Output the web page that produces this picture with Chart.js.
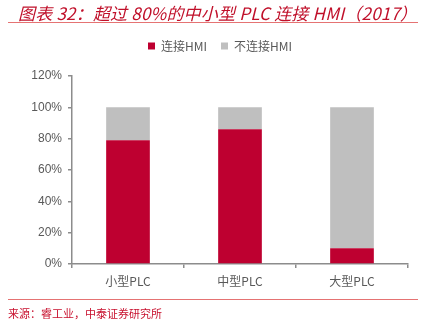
<!DOCTYPE html>
<html>
<head>
<meta charset="utf-8">
<script src="https://cdn.jsdelivr.net/npm/chart.js@4"></script>
<style>
  html, body { margin: 0; padding: 0; background: #fff; }
  #wrap { position: relative; width: 424px; height: 327px; overflow: hidden; }
  #title {
    position: absolute; left: 18px; top: 0px;
    font-family: "Noto Sans CJK SC", "Liberation Sans", sans-serif;
    font-style: italic; font-size: 17px; color: #C0102A; white-space: nowrap;
    letter-spacing: 0.2px;
  }
  #rule-top { position: absolute; left: 8px; top: 22px; width: 410px; height: 1px; background: #E57373; }
  #rule-bottom { position: absolute; left: 8px; top: 299px; width: 410px; height: 1px; background: #E57373; }
  #source {
    position: absolute; left: 8px; top: 305px;
    font-family: "Noto Sans CJK SC", sans-serif; font-size: 11px; color: #C8102E; white-space: nowrap;
  }
  #chart-box { position: absolute; left: 0; top: 0; width: 424px; height: 327px; }
</style>
</head>
<body>
<div id="wrap">
  <div id="chart-box"><canvas id="c" width="424" height="327"></canvas></div>
  <div id="title">图表 32：超过 80%的中小型 PLC 连接 HMI（2017）</div>
  <div id="rule-top"></div>
  <div id="rule-bottom"></div>
  <div id="source">来源：睿工业，中泰证券研究所</div>
</div>
<script>
// PLC size classes and the share of units connected to an HMI (2017), in %
const categories = ['小型PLC', '中型PLC', '大型PLC'];
const connectedHMI = [79, 86, 10];
const notConnectedHMI = [21, 14, 90];
const seriesNames = ['连接HMI', '不连接HMI'];
const yTicks = [0, 20, 40, 60, 80, 100, 120];

const axisColor = '#8C8C8C';
const labelColor = '#595959';

// Legend block: fixed height (leaves room above the plot) and a slight shift right
const legendBox = {
  id: 'legendBox',
  beforeUpdate(chart) {
    const lg = chart.legend;
    if (lg && !lg._fixedFit) {
      const fit = lg.fit;
      lg.fit = function () { fit.call(this); this.height = 50; };
      lg._fixedFit = true;
    }
  },
  afterLayout(chart) {
    const lg = chart.legend;
    if (lg) { lg.left += 16; lg.right += 16; }
  }
};

new Chart(document.getElementById('c'), {
  type: 'bar',
  data: {
    labels: categories,
    datasets: [
      { label: seriesNames[0], data: connectedHMI, backgroundColor: '#BE0030', borderWidth: 0 },
      { label: seriesNames[1], data: notConnectedHMI, backgroundColor: '#BFBFBF', borderWidth: 0 }
    ]
  },
  plugins: [legendBox],
  options: {
    responsive: false,
    animation: false,
    devicePixelRatio: 1,
    layout: { padding: { top: 26, left: 0, right: 16, bottom: 33 } },
    datasets: { bar: { categoryPercentage: 1, barPercentage: 0.39 } },
    plugins: {
      legend: {
        position: 'top',
        labels: {
          boxWidth: 7, boxHeight: 7, padding: 14,
          color: labelColor,
          font: { family: '"Noto Sans CJK SC", "Liberation Sans", sans-serif', size: 12 }
        }
      },
      tooltip: { enabled: false }
    },
    scales: {
      x: {
        stacked: true,
        afterFit: s => { s.height = 30; },
        border: { color: axisColor, width: 1.5 },
        grid: { offset: true, drawOnChartArea: false, drawTicks: true, tickLength: 4, color: axisColor, lineWidth: 1.5 },
        ticks: { color: labelColor, padding: 6, font: { family: '"Noto Sans CJK SC", "Liberation Sans", sans-serif', size: 12 } }
      },
      y: {
        stacked: true,
        min: 0, max: 120,
        afterFit: s => { s.width = 72; },
        afterBuildTicks: s => { s.ticks = yTicks.map(v => ({ value: v })); },
        border: { color: axisColor, width: 1.5 },
        grid: { drawOnChartArea: false, drawTicks: true, tickLength: 4, color: axisColor, lineWidth: 1.5 },
        ticks: {
          color: labelColor, padding: 6,
          font: { family: '"Liberation Sans", Arial, sans-serif', size: 12 },
          callback: v => v + '%'
        }
      }
    }
  }
});
</script>
</body>
</html>
